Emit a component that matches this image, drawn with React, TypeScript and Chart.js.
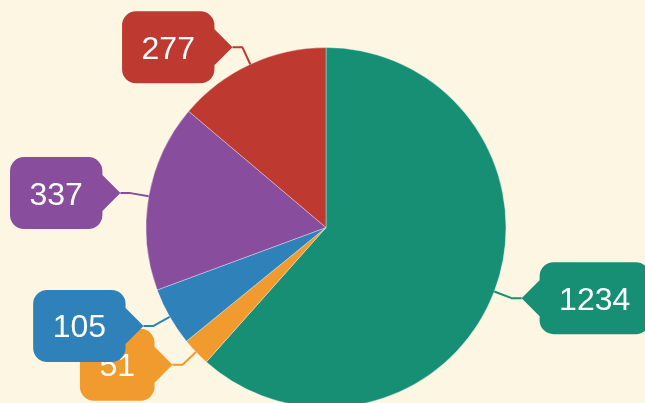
import React, { useEffect, useRef } from "react";
import { Chart, registerables } from "chart.js";

Chart.register(...registerables);

const categories = ["A", "B", "C", "D", "E"];
const values = [1234, 51, 105, 337, 277];
const colors = ["#168f75", "#f19b2e", "#2f82b9", "#884d9c", "#be3a30"];

const BG = "#fcf6e2";

const bgPlugin = {
  id: "bgFill",
  beforeDraw(chart: any) {
    const { ctx, width, height } = chart;
    ctx.save();
    ctx.fillStyle = BG;
    ctx.fillRect(0, 0, width, height);
    ctx.restore();
  },
};

const outLabelPlugin = {
  id: "outLabels",
  afterDatasetsDraw(chart: any) {
    const ctx = chart.ctx;
    const meta = chart.getDatasetMeta(0);
    const ds = chart.data.datasets[0];
    const lineExt = 18.6;
    const len2 = 10;
    const ptr = 18;
    const pad = 19.5;
    const boxH = 72;
    const rad = 14;
    const fontSize = 32;
    ctx.save();
    ctx.font = `${fontSize}px "Liberation Sans", Arial, sans-serif`;
    meta.data.forEach((arc: any, i: number) => {
      const { x, y, startAngle, endAngle, outerRadius } = arc.getProps(
        ["x", "y", "startAngle", "endAngle", "outerRadius"],
        true
      );
      const mid = (startAngle + endAngle) / 2;
      const dx = Math.cos(mid);
      const dy = Math.sin(mid);
      const p0x = x + outerRadius * dx;
      const p0y = y + outerRadius * dy;
      const p1x = x + (outerRadius + lineExt) * dx;
      const p1y = y + (outerRadius + lineExt) * dy;
      const side = dx >= 0 ? 1 : -1;
      const tipX = p1x + side * len2;
      const tipY = p1y;
      const color = ds.backgroundColor[i];
      const text = String(ds.data[i]);
      const tw = ctx.measureText(text).width;
      const bw = tw + pad * 2;
      let left: number, right: number;
      if (side > 0) {
        left = tipX + ptr;
        right = left + bw;
      } else {
        right = tipX - ptr;
        left = right - bw;
      }
      const top = tipY - boxH / 2;
      const bottom = tipY + boxH / 2;

      // line
      ctx.strokeStyle = color;
      ctx.lineWidth = 2;
      ctx.lineJoin = "round";
      ctx.beginPath();
      ctx.moveTo(p0x, p0y);
      ctx.lineTo(p1x, p1y);
      ctx.lineTo(tipX, tipY);
      ctx.stroke();

      // box with pointer
      ctx.fillStyle = color;
      ctx.beginPath();
      ctx.moveTo(left + rad, top);
      ctx.lineTo(right - rad, top);
      ctx.arcTo(right, top, right, top + rad, rad);
      if (side < 0) {
        ctx.lineTo(right, tipY - ptr);
        ctx.lineTo(tipX, tipY);
        ctx.lineTo(right, tipY + ptr);
      }
      ctx.lineTo(right, bottom - rad);
      ctx.arcTo(right, bottom, right - rad, bottom, rad);
      ctx.lineTo(left + rad, bottom);
      ctx.arcTo(left, bottom, left, bottom - rad, rad);
      if (side > 0) {
        ctx.lineTo(left, tipY + ptr);
        ctx.lineTo(tipX, tipY);
        ctx.lineTo(left, tipY - ptr);
      }
      ctx.lineTo(left, top + rad);
      ctx.arcTo(left, top, left + rad, top, rad);
      ctx.closePath();
      ctx.fill();

      // text
      ctx.fillStyle = "#ffffff";
      ctx.textAlign = "center";
      ctx.textBaseline = "alphabetic";
      ctx.fillText(text, (left + right) / 2, tipY + fontSize * 0.716 / 2);
    });
    ctx.restore();
  },
};

export default function App() {
  const ref = useRef<HTMLCanvasElement | null>(null);
  useEffect(() => {
    document.body.style.margin = "0";
    if (!ref.current) return;
    const chart = new Chart(ref.current, {
      type: "pie",
      data: {
        labels: categories,
        datasets: [
          {
            data: values,
            backgroundColor: colors,
            borderColor: "rgba(255,255,255,0.35)",
            borderWidth: 1,
          },
        ],
      },
      options: {
        responsive: false,
        animation: false,
        layout: { padding: { top: 47, bottom: 2, left: 7, right: 0 } },
        plugins: {
          legend: { display: false },
          tooltip: { enabled: false },
        },
      },
      plugins: [bgPlugin, outLabelPlugin],
    });
    return () => chart.destroy();
  }, []);
  return (
    <div
      style={{
        position: "fixed",
        left: 0,
        top: 0,
        width: 645,
        height: 403,
        overflow: "hidden",
        background: BG,
      }}
    >
      <canvas ref={ref} width={645} height={410} style={{ display: "block" }} />
    </div>
  );
}
